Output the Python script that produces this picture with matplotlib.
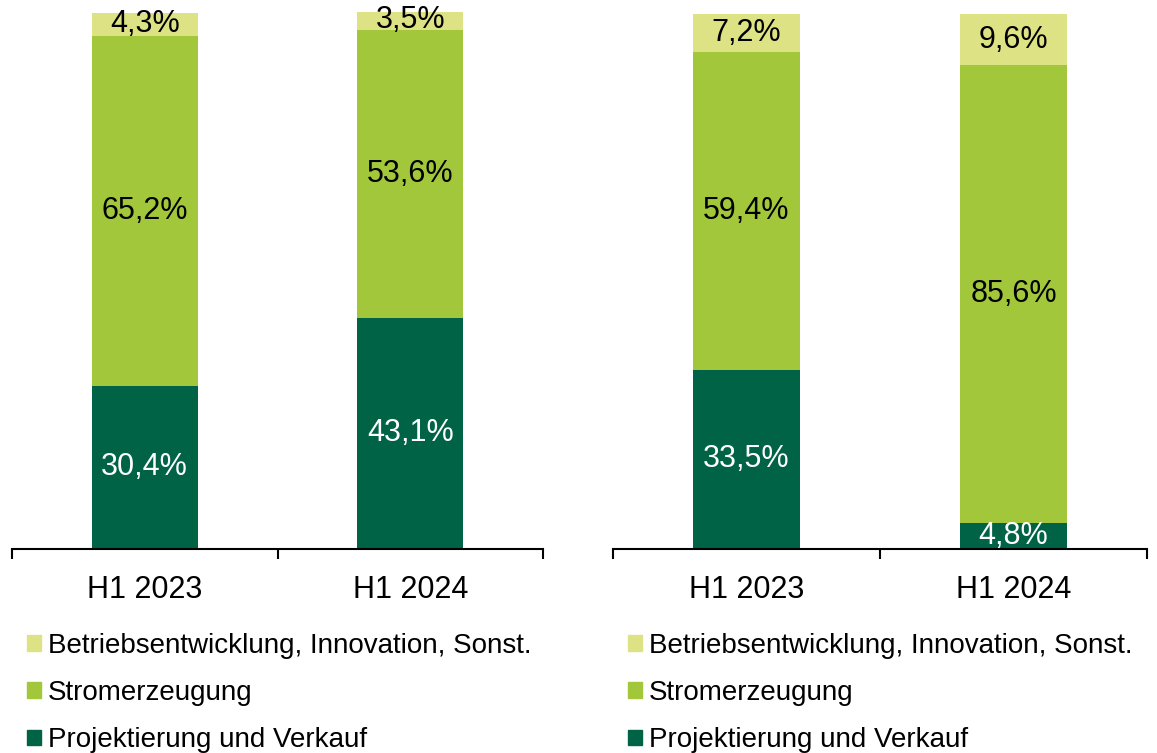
import numpy as np
import matplotlib
matplotlib.use("Agg")
import matplotlib.pyplot as plt
from matplotlib.patches import Patch

plt.rcParams['font.family'] = ['Liberation Sans', 'DejaVu Sans']

categories = ["H1 2023", "H1 2024"]
series_names = ["Projektierung und Verkauf", "Stromerzeugung",
                "Betriebsentwicklung, Innovation, Sonst."]
colors = ["#006346", "#A2C73B", "#DDE384"]
label_colors = ["white", "black", "black"]

# left chart
left_proj = [30.4, 43.1]
left_strom = [65.2, 53.6]
left_sonst = [4.3, 3.5]
# right chart
right_proj = [33.5, 4.8]
right_strom = [59.4, 85.6]
right_sonst = [7.2, 9.6]

fig = plt.figure(figsize=(11.57, 7.53), dpi=100)
W, H = 1157, 753


def draw_panel(rect, series, legend_x):
    ax = fig.add_axes(rect)
    x = np.arange(len(categories))
    bottom = np.zeros(len(categories))
    for vals, col, lcol in zip(series, colors, label_colors):
        vals = np.array(vals)
        ax.bar(x, vals, width=0.4, bottom=bottom, color=col, edgecolor="none")
        for xi, b, v in zip(x, bottom, vals):
            ax.text(xi, b + v / 2, ("%.1f%%" % v).replace(".", ","),
                    ha="center", va="center", color=lcol, fontsize=22)
        bottom += vals
    ax.set_xlim(-0.5, 1.5)
    ax.set_ylim(0, 100)
    for s in ["left", "right", "top"]:
        ax.spines[s].set_visible(False)
    ax.spines["bottom"].set_linewidth(1.5)
    ax.set_yticks([])
    ax.set_xticks(x)
    ax.set_xticklabels(categories, fontsize=22)
    ax.tick_params(axis="x", which="major", length=0, pad=18.5)
    ax.set_xticks([-0.5, 0.5, 1.5], minor=True)
    ax.tick_params(axis="x", which="minor", length=7, width=1.5, direction="out")
    handles = [Patch(color=c) for c in colors][::-1]
    fig.legend(handles, series_names[::-1], loc="upper left",
               bbox_to_anchor=(legend_x, 0.160), bbox_transform=fig.transFigure,
               frameon=False, fontsize=20, handlelength=0.5, handleheight=0.5,
               handletextpad=0.25, labelspacing=0.77, borderpad=0, borderaxespad=0)
    return ax


y0 = (H - 549) / H
draw_panel([12 / W, y0, 531 / W, 537 / H], [left_proj, left_strom, left_sonst], 27 / W)
draw_panel([613 / W, y0, 534 / W, 535 / H], [right_proj, right_strom, right_sonst], 628 / W)

fig.savefig("out.png", dpi=100)
